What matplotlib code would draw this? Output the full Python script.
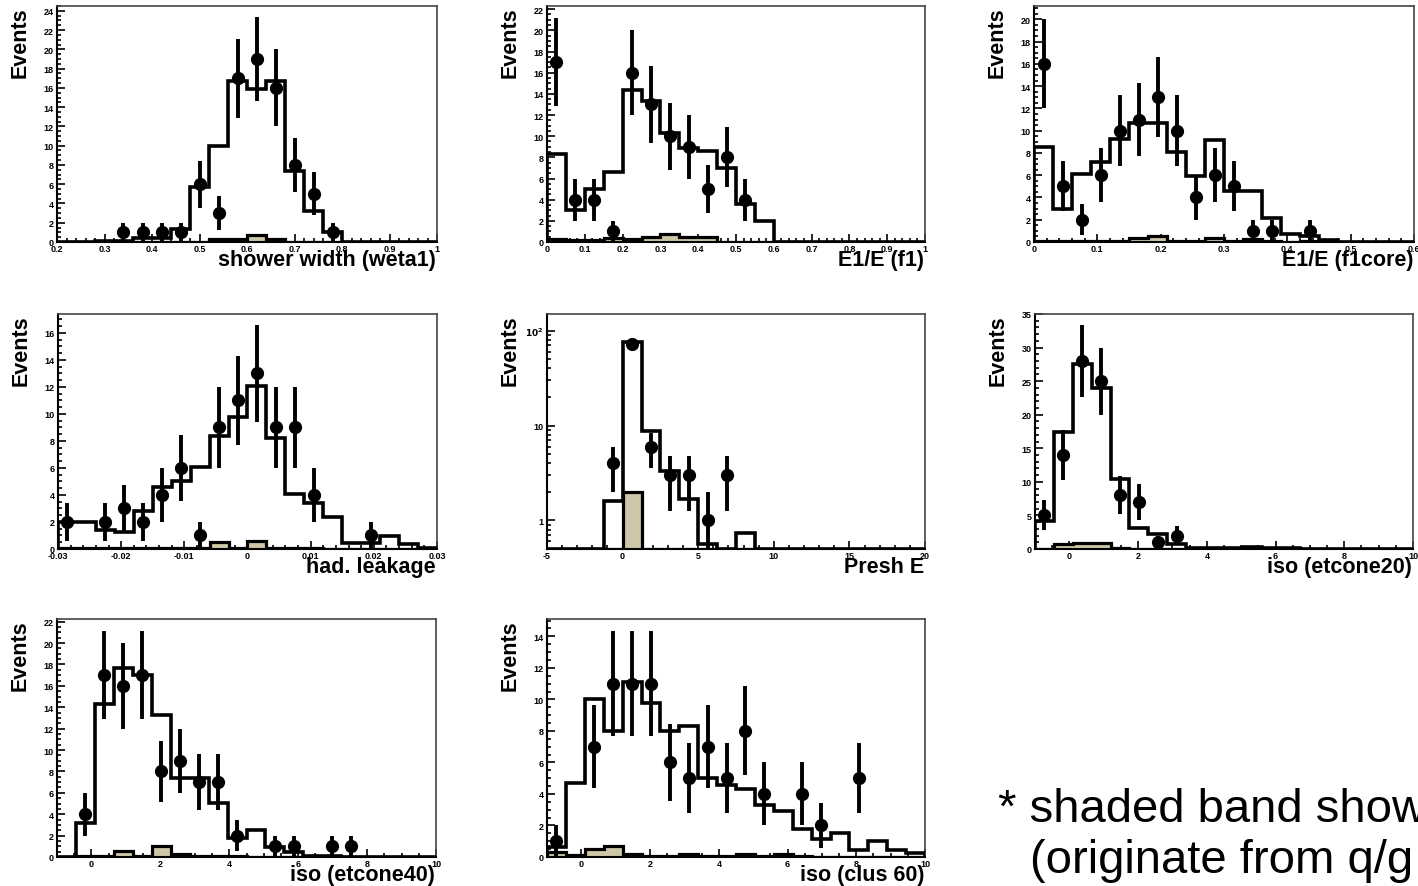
import numpy as np
import matplotlib
matplotlib.use("Agg")
import matplotlib.pyplot as plt
from matplotlib.ticker import MultipleLocator, AutoMinorLocator, FixedLocator, FixedFormatter, NullFormatter, LogLocator, FuncFormatter

plt.rcParams['font.family'] = ['Liberation Sans', 'DejaVu Sans']

# ---------------- data (20 bins per panel) ----------------
weta1_range = (0.2, 1.0)
weta1_mc = [0, 0, 0.1, 0.15, 0.45, 0.45, 1.3, 5.7, 10.0, 16.7, 15.9, 16.7, 7.4, 3.2, 1.0, 0, 0, 0, 0, 0]
weta1_bkg = [0, 0, 0, 0, 0, 0, 0, 0, 0.35, 0.35, 0.75, 0.35, 0, 0, 0, 0, 0, 0, 0, 0]
weta1_data = [0, 0, 0, 1, 1, 1, 1, 6, 3, 17, 19, 16, 8, 5, 1, 0, 0, 0, 0, 0]

f1_range = (0.0, 1.0)
f1_mc = [8.3, 3.0, 5.0, 6.6, 14.4, 13.3, 10.3, 8.9, 8.6, 7.0, 3.6, 2.0, 0, 0, 0, 0, 0, 0, 0, 0]
f1_bkg = [0.3, 0.15, 0.15, 0.4, 0.25, 0.45, 0.8, 0.45, 0.45, 0, 0, 0, 0, 0, 0, 0, 0, 0, 0, 0]
f1_data = [17, 4, 4, 1, 16, 13, 10, 9, 5, 8, 4, 0, 0, 0, 0, 0, 0, 0, 0, 0]

f1core_range = (0.0, 0.6)
f1core_mc = [8.5, 3.0, 6.1, 7.2, 9.25, 10.7, 10.7, 8.1, 5.9, 9.2, 4.6, 4.6, 2.2, 0.75, 0.5, 0.2, 0, 0, 0, 0]
f1core_bkg = [0.1, 0.1, 0.1, 0.1, 0.1, 0.35, 0.5, 0.1, 0.1, 0.4, 0.1, 0.3, 0.1, 0, 0.1, 0, 0, 0, 0, 0]
f1core_data = [16, 5, 2, 6, 10, 11, 13, 10, 4, 6, 5, 1, 1, 0, 1, 0, 0, 0, 0, 0]

had_range = (-0.03, 0.03)
had_mc = [2.0, 2.0, 1.4, 1.25, 2.85, 4.6, 5.0, 6.1, 8.4, 9.8, 12.05, 8.2, 4.1, 3.4, 2.4, 0.45, 0.45, 0.95, 0.35, 0.1]
had_bkg = [0.1, 0.1, 0.05, 0.05, 0.05, 0.05, 0.05, 0.05, 0.55, 0.1, 0.6, 0.1, 0.05, 0.05, 0, 0, 0, 0, 0, 0]
had_data = [2, 0, 2, 3, 2, 4, 6, 1, 9, 11, 13, 9, 9, 4, 0, 0, 1, 0, 0, 0]

presh_range = (-5.0, 20.0)
presh_mc = [0, 0, 0, 1.62, 76, 8.8, 3.35, 1.69, 0.56, 0.3, 0.74, 0, 0, 0, 0, 0, 0, 0, 0, 0]
presh_bkg = [0, 0, 0, 0, 2.0, 0, 0, 0, 0, 0, 0, 0, 0, 0, 0, 0, 0, 0, 0, 0]
presh_data = [0, 0, 0, 4, 72, 6, 3, 3, 1, 3, 0, 0, 0, 0, 0, 0, 0, 0, 0, 0]

et20_range = (-1.0, 10.0)
et20_mc = [4.2, 17.4, 27.6, 24.0, 10.4, 3.2, 2.3, 0.7, 0.2, 0.2, 0.15, 0.3, 0.1, 0.1, 0.05, 0, 0, 0, 0, 0]
et20_bkg = [0, 0.8, 0.95, 0.85, 0.1, 0.05, 0.05, 0.05, 0, 0, 0, 0.1, 0, 0, 0, 0, 0, 0, 0, 0]
et20_data = [5, 14, 28, 25, 8, 7, 1, 2, 0, 0, 0, 0, 0, 0, 0, 0, 0, 0, 0, 0]

et40_range = (-1.0, 10.0)
et40_mc = [0, 3.2, 14.3, 17.7, 17.0, 13.25, 7.4, 7.4, 5.06, 1.8, 2.5, 0.9, 0.5, 0.05, 0.1, 0, 0, 0, 0, 0]
et40_bkg = [0, 0.1, 0.1, 0.6, 0.1, 1.0, 0.3, 0.1, 0.05, 0.05, 0, 0, 0, 0, 0, 0, 0, 0, 0, 0]
et40_data = [0, 4, 17, 16, 17, 8, 9, 7, 7, 2, 0, 1, 1, 0, 1, 1, 0, 0, 0, 0]

clus60_range = (-1.0, 10.0)
clus60_mc = [0.64, 4.67, 10.0, 8.0, 11.1, 9.8, 8.0, 8.3, 5.0, 4.55, 4.3, 3.3, 2.9, 1.8, 1.15, 1.5, 0.45, 1.0, 0.45, 0.25]
clus60_bkg = [0.3, 0.1, 0.5, 0.7, 0.2, 0.05, 0.05, 0.2, 0.05, 0.05, 0.2, 0.05, 0.2, 0.05, 0, 0, 0, 0, 0, 0]
clus60_data = [1, 0, 7, 11, 11, 11, 6, 5, 7, 5, 8, 4, 0, 4, 2, 0, 5, 0, 0, 0]

x_titles = ["shower width (weta1)", "E1/E (f1)", "E1/E (f1core)", "had. leakage",
            "Presh E", "iso (etcone20)", "iso (etcone40)", "iso (clus 60)"]
note_lines = ["* shaded band show", "(originate from q/g"]

TAN = "#CEC7A7"

# ---------------- layout (pixels) ----------------
W, H = 1418, 887
fig = plt.figure(figsize=(W / 100, H / 100), dpi=100)


def add_ax(l, r, t, b):
    return fig.add_axes([l / W, 1 - b / H, (r - l) / W, (b - t) / H])


panels = [
    dict(box=(57, 437, 7, 243), rng=weta1_range, mc=weta1_mc, bkg=weta1_bkg, data=weta1_data,
         ymax=24.5, xmaj=0.1, xmin_sub=5, ymaj=2, ymin_sub=4, log=False),
    dict(box=(547, 925, 7, 243), rng=f1_range, mc=f1_mc, bkg=f1_bkg, data=f1_data,
         ymax=22.3, xmaj=0.1, xmin_sub=5, ymaj=2, ymin_sub=4, log=False),
    dict(box=(1034, 1414, 7, 243), rng=f1core_range, mc=f1core_mc, bkg=f1core_bkg, data=f1core_data,
         ymax=21.2, xmaj=0.1, xmin_sub=5, ymaj=2, ymin_sub=4, log=False),
    dict(box=(58, 437, 315, 550), rng=had_range, mc=had_mc, bkg=had_bkg, data=had_data,
         ymax=17.4, xmaj=0.01, xmin_sub=5, ymaj=2, ymin_sub=4, log=False),
    dict(box=(547, 925, 315, 550), rng=presh_range, mc=presh_mc, bkg=presh_bkg, data=presh_data,
         ymax=150, xmaj=5, xmin_sub=5, ymaj=None, ymin_sub=None, log=True),
    dict(box=(1035, 1413, 315, 550), rng=et20_range, mc=et20_mc, bkg=et20_bkg, data=et20_data,
         ymax=35.0, xmaj=2, xmin_sub=4, ymaj=5, ymin_sub=5, log=False),
    dict(box=(57, 436, 620, 858), rng=et40_range, mc=et40_mc, bkg=et40_bkg, data=et40_data,
         ymax=22.25, xmaj=2, xmin_sub=4, ymaj=2, ymin_sub=4, log=False),
    dict(box=(547, 925, 620, 858), rng=clus60_range, mc=clus60_mc, bkg=clus60_bkg, data=clus60_data,
         ymax=15.1, xmaj=2, xmin_sub=4, ymaj=2, ymin_sub=4, log=False),
]

LOG_YMIN = 0.5


def fmt(v, pos):
    s = f"{v:.3f}".rstrip("0").rstrip(".")
    if s in ("-0", ""):
        s = "0"
    return s


for p, title in zip(panels, x_titles):
    l, r, t, b = p["box"]
    ax = add_ax(l, r, t, b)
    x0, x1 = p["rng"]
    mc = np.asarray(p["mc"], float)
    bkg = np.asarray(p["bkg"], float)
    data = np.asarray(p["data"], float)
    n = len(mc)
    edges = np.linspace(x0, x1, n + 1)
    centers = 0.5 * (edges[:-1] + edges[1:])

    if p["log"]:
        ax.set_yscale("log")
        base = LOG_YMIN
        mc_p = np.clip(mc, base, None)
        bkg_p = np.clip(bkg, base, None)
    else:
        base = 0.0
        mc_p = mc
        bkg_p = bkg

    ax.stairs(bkg_p, edges, baseline=base, fill=True, color=TAN, zorder=2)
    ax.stairs(bkg_p, edges, baseline=base, fill=False, color="black", lw=2.3, zorder=3)
    ax.stairs(mc_p, edges, baseline=base, fill=False, color="black", lw=2.6, zorder=4)

    m = data > 0
    xd = centers[m]
    yd = data[m]
    err = np.sqrt(yd)
    lo = err.copy()
    if p["log"]:
        lo = yd - np.maximum(yd - err, base * 0.9)
    ax.errorbar(xd, yd, yerr=[lo, err], fmt="o", color="black", ms=8.5,
                elinewidth=2.8, capsize=0, zorder=6)

    ax.set_xlim(x0, x1)
    if p["log"]:
        ax.set_ylim(LOG_YMIN, p["ymax"])
        ax.yaxis.set_major_locator(FixedLocator([1, 10, 100]))
        ax.yaxis.set_major_formatter(FixedFormatter(["1", "10", "$\\mathbf{10^{2}}$"]))
        ax.yaxis.set_minor_locator(LogLocator(base=10, subs=np.arange(2, 10), numticks=20))
        ax.yaxis.set_minor_formatter(NullFormatter())
    else:
        ax.set_ylim(0, p["ymax"])
        ax.yaxis.set_major_locator(MultipleLocator(p["ymaj"]))
        ax.yaxis.set_minor_locator(AutoMinorLocator(p["ymin_sub"]))
        ax.yaxis.set_major_formatter(FuncFormatter(fmt))
    ax.xaxis.set_major_locator(MultipleLocator(p["xmaj"]))
    ax.xaxis.set_minor_locator(AutoMinorLocator(p["xmin_sub"]))
    ax.xaxis.set_major_formatter(FuncFormatter(fmt))

    ax.tick_params(which="both", direction="in", top=False, right=False, width=1.2,
                   labelsize=6.5, colors="black")
    ax.tick_params(which="major", length=5.5)
    ax.tick_params(which="minor", length=2.8)
    ax.tick_params(axis="x", pad=1.5)
    ax.tick_params(axis="y", pad=2.5)
    for lab in ax.get_xticklabels() + ax.get_yticklabels():
        lab.set_fontweight("bold")
    for side in ("left", "bottom"):
        ax.spines[side].set_linewidth(1.5)
        ax.spines[side].set_color("black")
    for side in ("top", "right"):
        ax.spines[side].set_linewidth(1.2)
        ax.spines[side].set_color("#444444")

    # titles
    fig.text((l - 37) / W, 1 - t / H, "Events", rotation=90, ha="center", va="top",
             fontsize=15.5, fontweight="bold")
    fig.text((r - 1) / W, 1 - (b + 7) / H, title, ha="right", va="top",
             fontsize=15.5, fontweight="bold")

fig.text(998 / W, 1 - 822 / H, note_lines[0], ha="left", va="baseline", fontsize=34)
fig.text(1030 / W, 1 - 873 / H, note_lines[1], ha="left", va="baseline", fontsize=34)

fig.savefig("out.png", dpi=100)
